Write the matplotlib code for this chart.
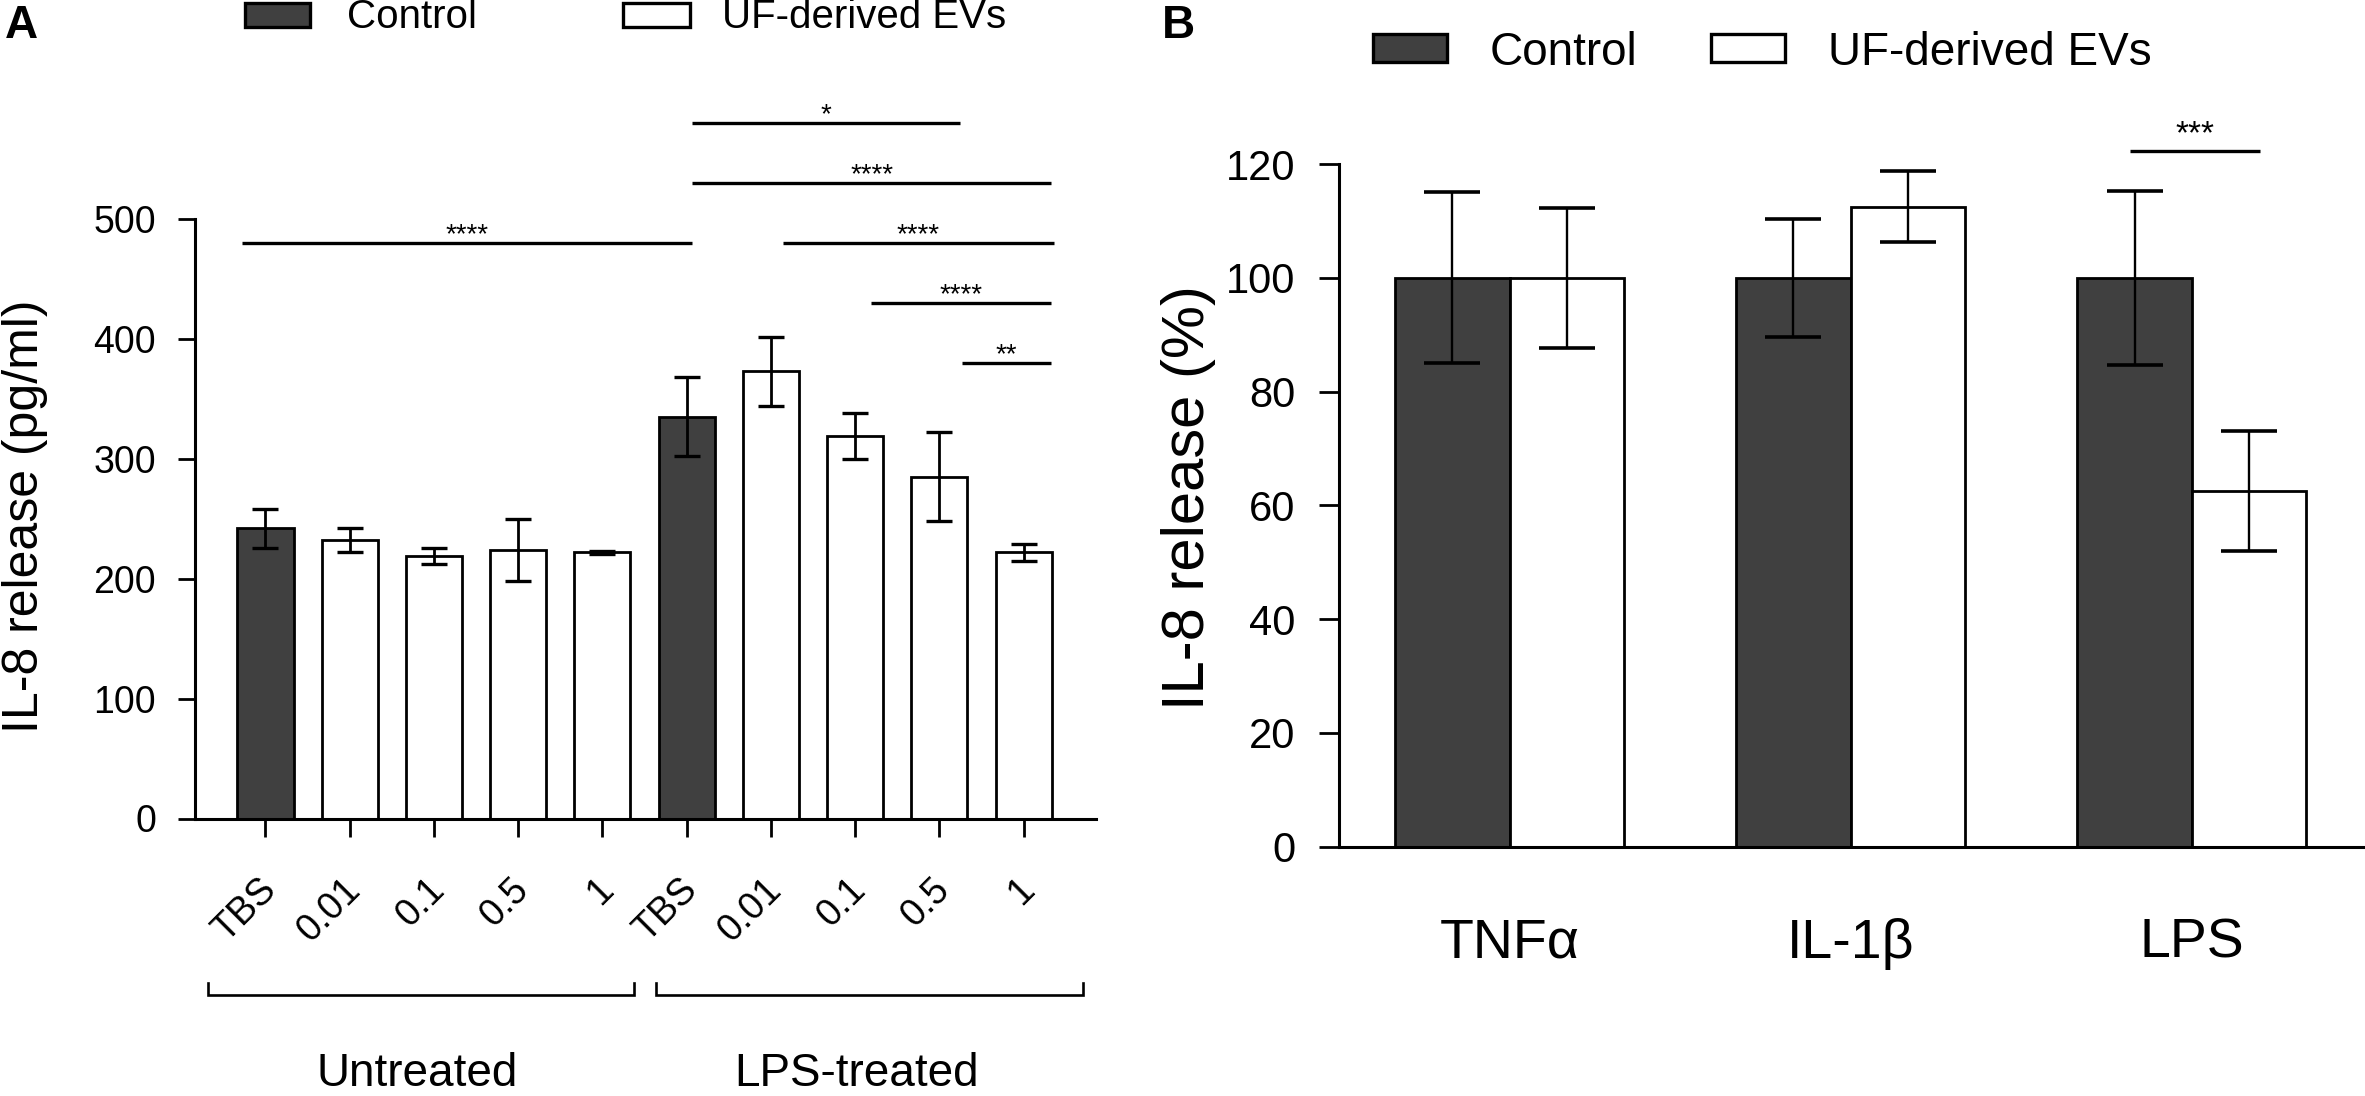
import matplotlib
matplotlib.use("Agg")
import matplotlib.pyplot as plt
from matplotlib.patches import Rectangle
import matplotlib.transforms as mtrans

plt.rcParams['font.family'] = ['Liberation Sans', 'DejaVu Sans']

# ---------------- data ----------------
series_names = ['Control', 'UF-derived EVs']

# Panel A
conditions = ['TBS', '0.01', '0.1', '0.5', '1', 'TBS', '0.01', '0.1', '0.5', '1']
is_control_a = [True, False, False, False, False, True, False, False, False, False]
groups_a = ['Untreated', 'LPS-treated']
il8_pg = [242, 232, 219, 224, 222, 335, 373, 319, 285, 222]
il8_pg_err = [16, 10, 6.5, 26, 1, 33, 29, 19.5, 37, 7]
yticks_a = [0, 100, 200, 300, 400, 500]
# significance brackets: (start, end, height, label)
sig_a_x0 = [5.06, 5.06, -0.28, 6.14, 7.19, 8.27]
sig_a_x1 = [8.25, 9.33, 5.06, 9.36, 9.33, 9.33]
sig_a_y = [580, 530, 480, 480, 430, 380]
sig_a_lbl = ['*', '****', '****', '****', '****', '**']

# Panel B
stimuli = ['TNF\u03b1', 'IL-1\u03b2', 'LPS']
b_control = [100, 100, 100]
b_control_err = [15, 10.4, 15.3]
b_ev = [100, 112.5, 62.5]
b_ev_err = [12.3, 6.2, 10.6]
yticks_b = [0, 20, 40, 60, 80, 100, 120]
sig_b_x0 = [1.82]
sig_b_x1 = [2.2]
sig_b_y = [122.2]
sig_b_lbl = ['***']

DARK = '#404040'
W, H = 2365, 1096
fig = plt.figure(figsize=(W / 100, H / 100), dpi=100)


def fx(x):
    return x / W


def fy(y):
    return 1 - y / H


def px_off(dx, dy):
    return mtrans.ScaledTranslation(dx / 100, -dy / 100, fig.dpi_scale_trans)


# ================= Panel A =================
axA = fig.add_axes([fx(195), fy(818.5), (1096 - 195) / W, (818.5 - 219) / H])
xa = list(range(len(conditions)))
colors_a = [DARK if c else 'white' for c in is_control_a]
axA.bar(xa, il8_pg, width=0.665, color=colors_a, edgecolor='black', linewidth=2, zorder=2)
axA.errorbar(xa, il8_pg, yerr=il8_pg_err, fmt='none', ecolor='black',
             elinewidth=2, capsize=9.7, capthick=2.4, zorder=3)
axA.set_xlim(-0.837, 9.86)
axA.set_ylim(0, 500)
axA.set_yticks(yticks_a)
axA.set_yticklabels([str(v) for v in yticks_a], fontsize=27)
axA.tick_params(axis='y', length=12, width=2, pad=16, direction='out')
axA.set_xticks(xa)
axA.set_xticklabels([''] * len(xa))
axA.tick_params(axis='x', length=13, width=2, direction='out')
for s in ['top', 'right']:
    axA.spines[s].set_visible(False)
for s in ['left', 'bottom']:
    axA.spines[s].set_linewidth(2.2)

trA = axA.get_xaxis_transform()
for i, lab in enumerate(conditions):
    axA.text(i, 0, lab, transform=trA + px_off(18, 53), rotation=45,
             ha='right', va='top', fontsize=27)

# group brackets and group names
ax_h_px = 818.5 - 219
for (g0, g1), gname, gx in zip([(-0.68, 4.38), (4.64, 9.71)], groups_a, [1.8, 7.02]):
    axA.plot([g0, g0, g1, g1], [12 / ax_h_px, 0, 0, 12 / ax_h_px], color='black',
             lw=1.9, clip_on=False, transform=trA + px_off(0, 176.5),
             solid_joinstyle='miter')
    axA.text(gx, 0, gname, transform=trA + px_off(0, 268), ha='center',
             va='baseline', fontsize=33)

# significance lines
for x0, x1, y, lbl in zip(sig_a_x0, sig_a_x1, sig_a_y, sig_a_lbl):
    axA.plot([x0, x1], [y, y], color='black', lw=2.4, clip_on=False, solid_capstyle='butt')
    axA.text((x0 + x1) / 2, y, lbl, ha='center', va='baseline', fontsize=20,
             transform=axA.transData + px_off(0, -1), clip_on=False)

axA.set_ylabel('IL-8 release (pg/ml)', fontsize=36)
axA.yaxis.set_label_coords(-0.163, 0.505)

# ================= Panel B =================
axB = fig.add_axes([fx(1339), fy(846.7), (2365 - 1339) / W, (846.7 - 164) / H])
xb = list(range(len(stimuli)))
bw = 0.3355
xc = [x - bw / 2 for x in xb]
xe = [x + bw / 2 for x in xb]
axB.bar(xc, b_control, width=bw, color=DARK, edgecolor='black', linewidth=2, zorder=2,
        label=series_names[0])
axB.bar(xe, b_ev, width=bw, color='white', edgecolor='black', linewidth=2, zorder=2,
        label=series_names[1])
axB.errorbar(xc, b_control, yerr=b_control_err, fmt='none', ecolor='black',
             elinewidth=1.7, capsize=20, capthick=2.6, zorder=3)
axB.errorbar(xe, b_ev, yerr=b_ev_err, fmt='none', ecolor='black',
             elinewidth=1.7, capsize=20, capthick=2.6, zorder=3)
axB.set_xlim(-0.5, 2.508)
axB.set_ylim(0, 120)
axB.set_yticks(yticks_b)
axB.set_yticklabels([str(v) for v in yticks_b], fontsize=30)
axB.tick_params(axis='y', length=14.4, width=2, pad=17, direction='out')
axB.set_xticks(xb)
axB.set_xticklabels(stimuli, fontsize=40)
axB.tick_params(axis='x', length=0, pad=51)
for s in ['top', 'right']:
    axB.spines[s].set_visible(False)
for s in ['left', 'bottom']:
    axB.spines[s].set_linewidth(2.2)

for x0, x1, y, lbl in zip(sig_b_x0, sig_b_x1, sig_b_y, sig_b_lbl):
    axB.plot([x0, x1], [y, y], color='black', lw=2.4, clip_on=False, solid_capstyle='butt')
    axB.text((x0 + x1) / 2, y, lbl, ha='center', va='baseline', fontsize=24,
             transform=axB.transData + px_off(0, -8), clip_on=False)

axB.set_ylabel('IL-8 release (%)', fontsize=43)
axB.yaxis.set_label_coords(-0.12, 0.512)

# ================= legends & panel letters =================
def legend_entry(x0, x1, y0, y1, fc, tx, tb, label, fs):
    fig.add_artist(Rectangle((fx(x0), fy(y1)), (x1 - x0) / W, (y1 - y0) / H,
                             transform=fig.transFigure, facecolor=fc,
                             edgecolor='black', linewidth=2.4))
    fig.text(fx(tx), fy(tb), label, fontsize=fs, ha='left', va='baseline')

legend_entry(245, 310, 3, 27, DARK, 347, 28, series_names[0], 29)
legend_entry(623, 690, 3, 27, 'white', 722, 28, series_names[1], 29)
legend_entry(1373, 1447, 34, 62, DARK, 1490, 65, series_names[0], 33)
legend_entry(1711, 1785, 34, 62, 'white', 1828, 65, series_names[1], 33)

fig.text(fx(5), fy(38), 'A', fontsize=33, fontweight='bold', ha='left', va='baseline')
fig.text(fx(1162), fy(38), 'B', fontsize=33, fontweight='bold', ha='left', va='baseline')

fig.savefig('out.png', dpi=100)
